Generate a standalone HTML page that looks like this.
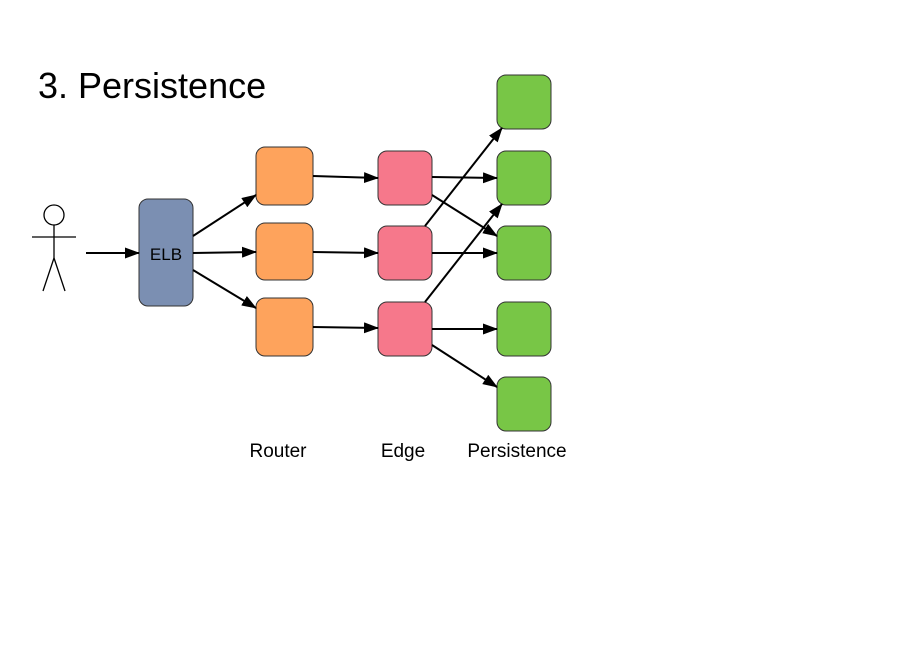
<!DOCTYPE html>
<html><head><style>
body{margin:0;background:#fff;width:907px;height:663px;overflow:hidden}
</style></head><body>
<svg width="907" height="663" xmlns="http://www.w3.org/2000/svg" font-family="Liberation Sans, sans-serif">
<defs><marker id="a" markerWidth="15" markerHeight="11" refX="14" refY="5.5" orient="auto" markerUnits="userSpaceOnUse"><path d="M0,0 L15,5.5 L0,11 z" fill="#000"/></marker></defs>
<text x="38" y="98" font-size="36" fill="#000">3. Persistence</text>
<g stroke="#000" stroke-width="1.3" fill="none">
<circle cx="54" cy="215" r="10" fill="#fff"/>
<line x1="54" y1="225" x2="54" y2="258"/>
<line x1="32" y1="237" x2="76" y2="237"/>
<line x1="54" y1="258" x2="43" y2="291"/>
<line x1="54" y1="258" x2="65" y2="291"/>
</g>
<g stroke="#333" stroke-width="1">
<rect x="139" y="199" width="54" height="107" rx="9" fill="#7b8fb2"/>
<rect x="256" y="147" width="57" height="58" rx="9" fill="#fea35c"/>
<rect x="256" y="223" width="57" height="57" rx="9" fill="#fea35c"/>
<rect x="256" y="298" width="57" height="58" rx="9" fill="#fea35c"/>
<rect x="378" y="151" width="54" height="54" rx="9" fill="#f6788b"/>
<rect x="378" y="226" width="54" height="54" rx="9" fill="#f6788b"/>
<rect x="378" y="302" width="54" height="54" rx="9" fill="#f6788b"/>
<rect x="497" y="75" width="54" height="54" rx="9" fill="#78c646"/>
<rect x="497" y="151" width="54" height="54" rx="9" fill="#78c646"/>
<rect x="497" y="226" width="54" height="54" rx="9" fill="#78c646"/>
<rect x="497" y="302" width="54" height="54" rx="9" fill="#78c646"/>
<rect x="497" y="377" width="54" height="54" rx="9" fill="#78c646"/>
</g>
<text x="166" y="260" font-size="17" text-anchor="middle">ELB</text>
<g stroke="#000" stroke-width="2" marker-end="url(#a)">
<line x1="86" y1="253" x2="139" y2="253"/>
<line x1="193" y1="236" x2="256" y2="195"/>
<line x1="193" y1="253" x2="256" y2="252"/>
<line x1="193" y1="270" x2="256" y2="308"/>
<line x1="313" y1="176" x2="378" y2="178"/>
<line x1="313" y1="252" x2="378" y2="253"/>
<line x1="313" y1="327" x2="378" y2="328"/>
<line x1="432" y1="177" x2="497" y2="178"/>
<line x1="432" y1="195" x2="497" y2="236"/>
<line x1="425" y1="226" x2="502" y2="128"/>
<line x1="432" y1="253" x2="497" y2="253"/>
<line x1="425" y1="302" x2="502" y2="204"/>
<line x1="432" y1="329" x2="497" y2="329"/>
<line x1="432" y1="345" x2="497" y2="387"/>
</g>
<g font-size="19" fill="#000" text-anchor="middle">
<text x="278" y="457">Router</text>
<text x="403" y="457">Edge</text>
<text x="517" y="457">Persistence</text>
</g>
</svg>
</body></html>
